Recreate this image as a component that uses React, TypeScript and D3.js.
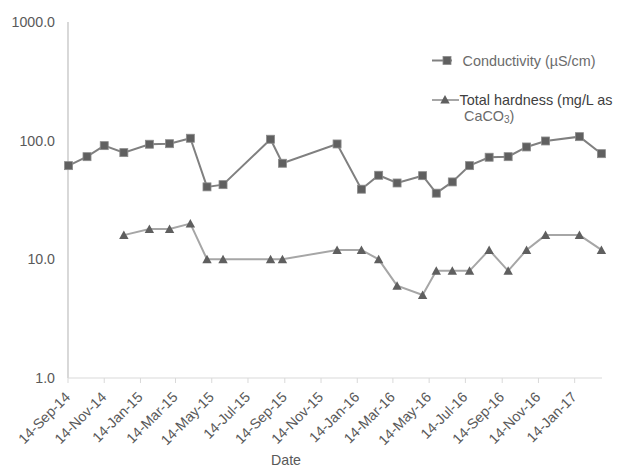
import React from "react";
import * as d3 from "d3";

const condDates = ["2014-09-15","2014-10-16","2014-11-14","2014-12-17","2015-01-29","2015-03-04","2015-04-08","2015-05-06","2015-06-02","2015-08-21","2015-09-10","2015-12-11","2016-01-21","2016-02-19","2016-03-21","2016-05-03","2016-05-26","2016-06-22","2016-07-21","2016-08-23","2016-09-24","2016-10-25","2016-11-26","2017-01-22","2017-02-28"];
const condValues = [61.6,73.3,90.8,79.3,93.3,94.3,104.8,40.8,42.6,102.8,64.5,93.8,39.0,51.1,44.0,50.7,36.1,44.9,61.6,72.5,73.3,88.5,99.4,108.1,77.7];

const hardDates = condDates.slice(3);
const hardValues = [16,18,18,20,10,10,10,10,12,12,10,6,5,8,8,8,12,8,12,16,16,12];

const xTickLabels = ["14-Sep-14","14-Nov-14","14-Jan-15","14-Mar-15","14-May-15","14-Jul-15","14-Sep-15","14-Nov-15","14-Jan-16","14-Mar-16","14-May-16","14-Jul-16","14-Sep-16","14-Nov-16","14-Jan-17"];
const yTicks = [1, 10, 100, 1000];

const parseISO = d3.timeParse("%Y-%m-%d");
const parseTick = d3.timeParse("%d-%b-%y");

export default function App() {
  const left = 68, right = 602, top = 22, bottom = 378;
  const x = d3.scaleTime()
    .domain([new Date(2014, 8, 14), new Date(2017, 2, 1)])
    .range([left, right]);
  const y = d3.scaleLog().domain([1, 1000]).range([bottom, top]);

  const cond = condDates.map((d, i) => ({ x: x(parseISO(d)!), y: y(condValues[i]) }));
  const hard = hardDates.map((d, i) => ({ x: x(parseISO(d)!), y: y(hardValues[i]) }));
  const line = d3.line<{ x: number; y: number }>().x(p => p.x).y(p => p.y);

  const tri = "M0,-4.5L4.7,4L-4.7,4Z";
  const font = "'Liberation Sans', Arial, sans-serif";

  return (
    <svg width={622} height={467} style={{ position: "absolute", left: 0, top: 0, background: "#fff" }} fontFamily={font}>
      {/* axes */}
      <line x1={left} x2={left} y1={top} y2={bottom} stroke="#bfbfbf" strokeWidth={1.2} />
      <line x1={left} x2={right} y1={bottom} y2={bottom} stroke="#d9d9d9" strokeWidth={1.2} />
      {xTickLabels.map((t, i) => {
        const tx = x(parseTick(t)!);
        return (
          <g key={i}>
            <line x1={tx} x2={tx} y1={bottom} y2={bottom + 5} stroke="#d9d9d9" strokeWidth={1} />
            <text transform={`translate(${tx + 3},${bottom + 20}) rotate(-45)`} textAnchor="end" fontSize={14.2} fill="#595959">{t}</text>
          </g>
        );
      })}
      {yTicks.map((v, i) => (
        <text key={i} x={55} y={y(v)} dy="0.35em" textAnchor="end" fontSize={14.2} fill="#595959">{v.toFixed(1)}</text>
      ))}
      <text x={286} y={465} textAnchor="middle" fontSize={14.2} fill="#595959">Date</text>

      {/* series */}
      <path d={line(hard)!} fill="none" stroke="#a6a6a6" strokeWidth={2} />
      {hard.map((p, i) => (
        <path key={i} d={tri} transform={`translate(${p.x},${p.y})`} fill="#5f5f5f" />
      ))}
      <path d={line(cond)!} fill="none" stroke="#808080" strokeWidth={2} />
      {cond.map((p, i) => (
        <rect key={i} x={p.x - 4} y={p.y - 4} width={8} height={8} fill="#606060" stroke="#8c8c8c" strokeWidth={0.8} />
      ))}

      {/* legend */}
      <line x1={432} x2={452} y1={60.5} y2={60.5} stroke="#808080" strokeWidth={2} />
      <rect x={443} y={56.5} width={8} height={8} fill="#606060" stroke="#8c8c8c" strokeWidth={0.8} />
      <text x={462.5} y={65.5} fontSize={14.4} fill="#6b6b6b">Conductivity (µS/cm)</text>

      <line x1={432} x2={459} y1={100} y2={100} stroke="#a6a6a6" strokeWidth={2} />
      <path d={tri} transform="translate(445,99.5)" fill="#5f5f5f" />
      <text x={459.5} y={104.5} fontSize={14.4} fill="#404040">Total hardness (mg/L as</text>
      <text x={464} y={121} fontSize={14.4} fill="#6b6b6b">CaCO<tspan fontSize={10} dy={2}>3</tspan><tspan dy={-2}>)</tspan></text>
    </svg>
  );
}
